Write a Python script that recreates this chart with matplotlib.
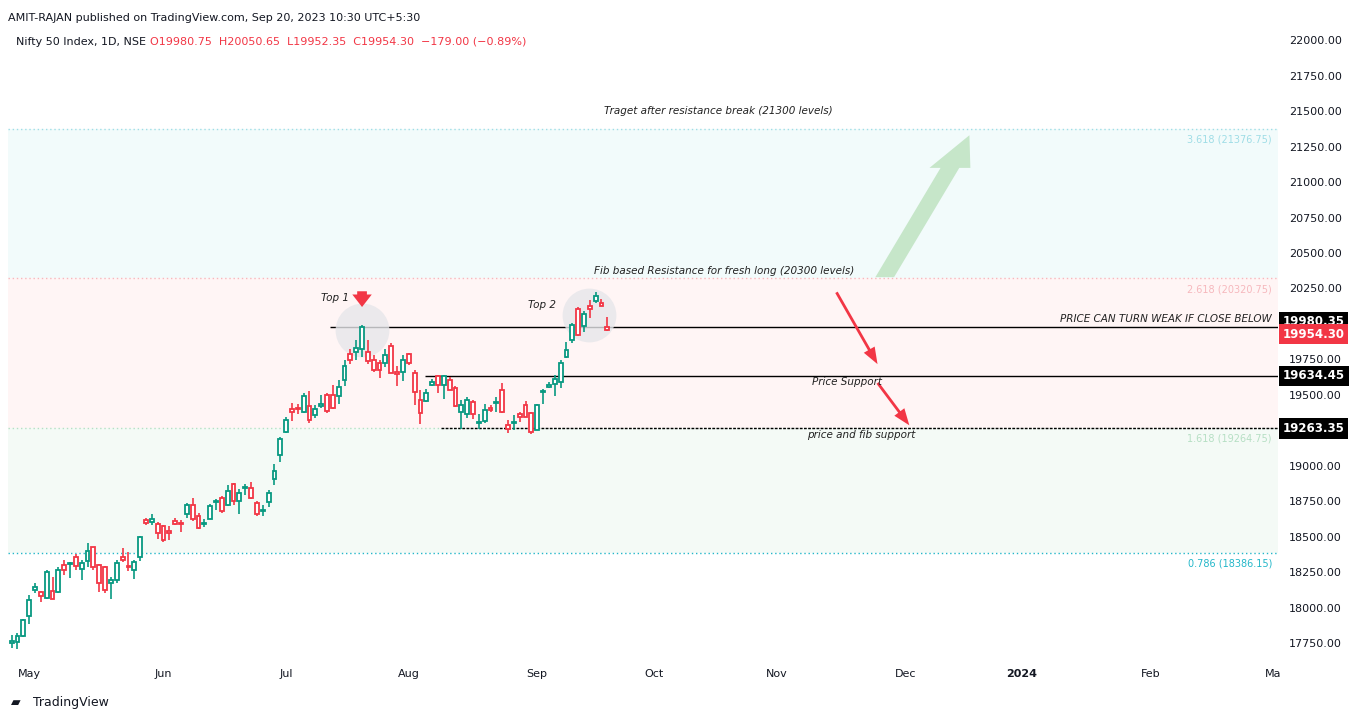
import numpy as np
import matplotlib.pyplot as plt
from matplotlib.patches import FancyArrow

# daily candles, Nifty 50
opens = [17755, 17762, 17802, 17945, 18122, 18108, 18070, 18115, 18112, 18298, 18310, 18357, 18270, 18333, 18425,
         18298, 18286, 18178, 18199, 18361, 18290, 18263, 18361, 18615, 18601, 18587, 18573, 18544, 18608, 18596,
         18664, 18721, 18650, 18590, 18629, 18742, 18770, 18721, 18869, 18749, 18847, 18847, 18735, 18681, 18742,
         18904, 19075, 19240, 19404, 19406, 19383, 19421, 19357, 19421, 19496, 19496, 19491, 19608, 19787, 19799,
         19827, 19803, 19749, 19726, 19726, 19848, 19660, 19662, 19787, 19651, 19463, 19458, 19573, 19632, 19573,
         19604, 19552, 19383, 19369, 19449, 19303, 19317, 19411, 19442, 19533, 19291, 19301, 19369, 19430, 19376,
         19256, 19521, 19557, 19580, 19592, 19768, 19890, 20109, 19987, 20128, 20160, 20151, 19980.75]
highs = [17807, 17819, 17924, 18089, 18178, 18115, 18265, 18218, 18288, 18340, 18324, 18382, 18340, 18453, 18429,
         18307, 18296, 18218, 18335, 18418, 18392, 18335, 18505, 18636, 18660, 18601, 18580, 18575, 18636, 18617,
         18737, 18777, 18671, 18629, 18730, 18765, 18789, 18864, 18876, 18836, 18871, 18885, 18749, 18723, 18829,
         19012, 19205, 19345, 19444, 19439, 19515, 19526, 19428, 19498, 19510, 19569, 19608, 19745, 19822, 19886,
         19991, 19886, 19780, 19749, 19827, 19867, 19702, 19780, 19796, 19679, 19533, 19545, 19615, 19639, 19639,
         19627, 19561, 19463, 19482, 19463, 19369, 19439, 19428, 19486, 19585, 19322, 19357, 19381, 19458, 19381,
         19439, 19545, 19592, 19639, 19745, 19874, 20008, 20121, 20092, 20172, 20226, 20179, 20050.65]
lows = [17718, 17711, 17795, 17889, 18101, 18042, 18063, 18060, 18101, 18234, 18213, 18265, 18199, 18288, 18265,
        18112, 18105, 18065, 18176, 18324, 18260, 18206, 18331, 18584, 18580, 18486, 18465, 18481, 18584, 18537,
        18634, 18613, 18556, 18566, 18624, 18692, 18671, 18716, 18721, 18664, 18796, 18763, 18650, 18650, 18711,
        18862, 19028, 19233, 19317, 19369, 19374, 19303, 19334, 19411, 19374, 19404, 19435, 19561, 19721, 19745,
        19768, 19721, 19662, 19622, 19698, 19651, 19561, 19599, 19709, 19428, 19294, 19451, 19561, 19514, 19474,
        19533, 19416, 19263, 19334, 19327, 19263, 19303, 19381, 19381, 19374, 19233, 19256, 19310, 19341, 19223,
        19256, 19435, 19552, 19491, 19552, 19763, 19867, 19914, 19944, 20045, 20149, 20125, 19952.35]
closes = [17765, 17802, 17913, 18058, 18143, 18086, 18249, 18065, 18263, 18263, 18314, 18291, 18312, 18397, 18284,
          18176, 18122, 18199, 18312, 18340, 18286, 18319, 18497, 18594, 18629, 18530, 18481, 18530, 18587, 18592,
          18721, 18629, 18559, 18596, 18714, 18751, 18685, 18822, 18749, 18812, 18852, 18770, 18664, 18685, 18812,
          18967, 19186, 19322, 19381, 19400, 19493, 19322, 19402, 19439, 19385, 19411, 19557, 19705, 19749, 19832,
          19980, 19740, 19674, 19679, 19778, 19655, 19644, 19749, 19726, 19522, 19374, 19517, 19594, 19569, 19632,
          19538, 19421, 19430, 19463, 19364, 19308, 19392, 19392, 19444, 19381, 19263, 19305, 19341, 19345, 19240,
          19430, 19524, 19573, 19611, 19728, 19820, 19996, 19921, 20069, 20109, 20196, 20128, 19954.30]

holidays = ['2023-05-01', '2023-06-29', '2023-08-15', '2023-09-19', '2023-10-02', '2023-12-25', '2024-01-26']
month_starts = ['2023-04-28', '2023-06-01', '2023-07-03', '2023-08-01', '2023-09-01', '2023-10-03',
                '2023-11-01', '2023-12-01', '2024-01-01', '2024-02-01', '2024-03-01']
month_labels = ['May', 'Jun', 'Jul', 'Aug', 'Sep', 'Oct', 'Nov', 'Dec', '2024', 'Feb', 'Ma']

fib_levels = [21376.75, 20320.75, 19264.75, 18386.15]
fib_names = ['3.618', '2.618', '1.618', '0.786']
fib_colors = ['#9fdde6', '#f6b8bd', '#b6dfc4', '#23b7c9']
zone_fills = ['#f2fbfb', '#fff5f5', '#f4faf6']

resistance = 19980.35
support = 19634.45
fib_support = 19263.35
last_close = 19954.30

GREEN = '#089981'
RED = '#f23645'

n = len(opens)
last_day = np.datetime64('2023-09-20')
start = np.busday_offset(last_day, -(n - 1), roll='backward', holidays=holidays)
x = np.arange(n)
month_x = [max(np.busday_count(start, m, holidays=holidays), 0) for m in month_starts]

fig = plt.figure(figsize=(13.55, 7.21), dpi=100)
ax = fig.add_axes([0.006, 0.087, 0.937, 0.874])
x0, x1 = -0.6, 216.8

# fib zones
for i in range(3):
    ax.axhspan(fib_levels[i + 1], fib_levels[i], color=zone_fills[i], zorder=0, lw=0)
for lv, nm, c in zip(fib_levels, fib_names, fib_colors):
    ax.axhline(lv, color=c, lw=1, ls=(0, (1, 2)), zorder=1)
    ax.text(215.8, lv - 40, f'{nm} ({lv:.2f})', color=c, fontsize=7, ha='right', va='top')

# candles
up = np.array(closes) >= np.array(opens)
cols = np.where(up, GREEN, RED)
ax.vlines(x, lows, highs, colors=cols, lw=1.2, zorder=3)
body_lo = np.minimum(opens, closes)
body_h = np.maximum(np.abs(np.array(closes) - np.array(opens)), 6)
ax.bar(x, body_h, bottom=body_lo, width=0.66, color='white', edgecolor=cols, lw=1.3, zorder=4)

# horizontal levels
ax.hlines(resistance, 54.5, x1, color='black', lw=1, zorder=2)
ax.hlines(support, 70.8, x1, color='black', lw=1, zorder=2)
ax.hlines(fib_support, 73.5, x1, color='black', lw=1, ls=(0, (2, 1)), zorder=2)

# top circles and annotations
for cx, cy in [(60, 19960), (98.8, 20060)]:
    ax.scatter([cx], [cy], s=1500, color='#e6e6ea', alpha=0.8, zorder=2, lw=0)
ax.annotate('', xy=(60, 20100), xytext=(60, 20250),
            arrowprops=dict(arrowstyle='simple,head_width=1.4,head_length=0.9,tail_width=0.7',
                            color=RED, lw=0), zorder=6)
it = dict(fontsize=7.5, style='italic', color='#222222', zorder=6)
ax.text(53, 20162, 'Top 1', **it)
ax.text(88.5, 20110, 'Top 2', **it)
ax.text(121, 21500, 'Traget after resistance break (21300 levels)', ha='center', va='center', **it)
ax.text(122, 20375, 'Fib based Resistance for fresh long (20300 levels)', ha='center', va='center', **it)
ax.text(215.8, 20035, 'PRICE CAN TURN WEAK IF CLOSE BELOW', ha='right', va='center', **it)
ax.text(143, 19588, 'Price Support', ha='center', va='center', **it)
ax.text(145.5, 19220, 'price and fib support', ha='center', va='center', **it)

# direction arrows
ax.add_patch(FancyArrow(149.5, 20330, 14.5, 1000, width=3.2, head_width=7, head_length=230,
                        length_includes_head=True, color='#c6e6c9', lw=0, zorder=5))
ax.annotate('', xy=(148.5, 19700), xytext=(141, 20240),
            arrowprops=dict(arrowstyle='simple,head_width=0.9,head_length=1.2,tail_width=0.2', color=RED, lw=0))
ax.annotate('', xy=(154, 19270), xytext=(148, 19600),
            arrowprops=dict(arrowstyle='simple,head_width=0.9,head_length=1.2,tail_width=0.2', color=RED, lw=0))

# axes styling
for s in ax.spines.values():
    s.set_visible(False)
ax.set_xticks(month_x)
ax.set_xticklabels(month_labels, fontsize=8, color='#131722')
for lbl in ax.get_xticklabels():
    if lbl.get_text() == '2024':
        lbl.set_fontweight('bold')
ax.tick_params(axis='x', length=0, pad=8)
ax.yaxis.tick_right()
yt = [v for v in np.arange(17750, 22001, 250) if v not in (19250, 20000)]
ax.set_yticks(yt)
ax.set_yticklabels([f'{v:.2f}' for v in yt], fontsize=8, color='#131722')
ax.tick_params(axis='y', length=0, pad=8)
ax.set_xlim(x0, x1)
ax.set_ylim(17644, 22085)

# price tags on the right axis
tags = [(resistance, resistance + 35, 'black'), (last_close, last_close - 25, RED),
        (support, support, 'black'), (fib_support, fib_support, 'black')]
for lab, ypos, bg in tags:
    ax.text(1.004, ypos, f'{lab:.2f}', transform=ax.get_yaxis_transform(), fontsize=8.5, fontweight='bold',
            color='white', va='center', ha='left', clip_on=False, zorder=7,
            bbox=dict(boxstyle='square,pad=0.3', fc=bg, ec='none'))

fig.text(0.006, 0.975, 'AMIT-RAJAN published on TradingView.com, Sep 20, 2023 10:30 UTC+5:30',
         fontsize=8, color='#131722', va='center')
fig.text(0.012, 0.942, 'Nifty 50 Index, 1D, NSE', fontsize=8, color='#131722', va='center')
fig.text(0.111, 0.942, 'O19980.75  H20050.65  L19952.35  C19954.30  \u2212179.00 (\u22120.89%)',
         fontsize=8, color=RED, va='center')
fig.text(0.024, 0.025, 'TradingView', fontsize=9, color='#131722', va='center')
fig.text(0.008, 0.025, '\u25b0', fontsize=9, color='#131722', va='center')

fig.savefig('out.png', dpi=100)
